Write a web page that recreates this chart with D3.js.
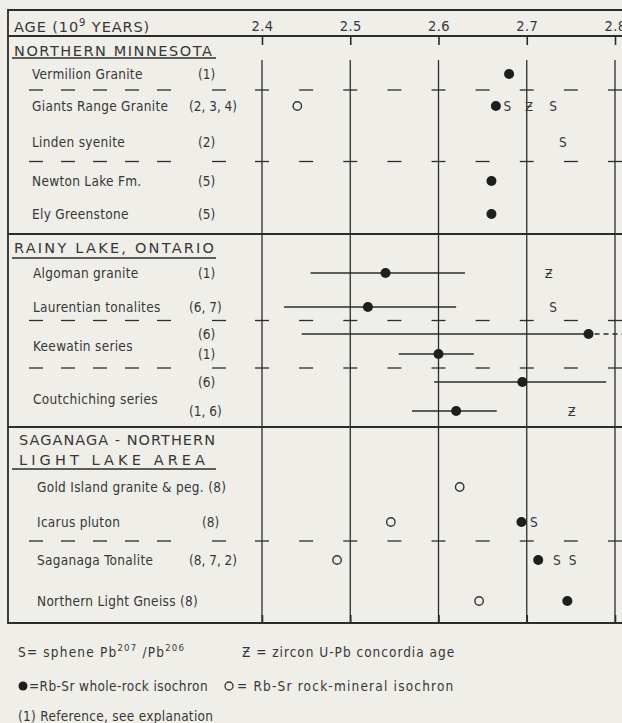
<!DOCTYPE html>
<html>
<head>
<meta charset="utf-8">
<script src="https://cdn.jsdelivr.net/npm/d3@7"></script>
<style>
  html, body { margin: 0; padding: 0; background: #efeee9; }
  svg { display: block; }
  text { font-family: "DejaVu Sans Condensed", "DejaVu Sans", sans-serif; fill: #373737; }
  text.caps { font-family: "DejaVu Sans", sans-serif; }
</style>
</head>
<body>
<svg id="chart" width="622" height="723"></svg>
<script>
// ---- data -------------------------------------------------------------
const ageTicks = [2.4, 2.5, 2.6, 2.7, 2.8];

const sectionTitles = [
  ["NORTHERN  MINNESOTA"],
  ["RAINY LAKE, ONTARIO"],
  ["SAGANAGA - NORTHERN", "LIGHT  LAKE   AREA"]
];

// rock units, the sample lanes they occupy, and their references
const rockUnits = [
  "Vermilion Granite", "Giants Range Granite", "Linden  syenite", "Newton Lake Fm.",
  "Ely Greenstone", "Algoman granite", "Laurentian tonalites", "Keewatin series",
  "Coutchiching series", "Gold Island granite & peg.", "Icarus pluton",
  "Saganaga Tonalite", "Northern Light Gneiss"
];
const unitLanes = [
  ["verm"], ["giants"], ["linden"], ["newton"], ["ely"], ["algoman"], ["laur"],
  ["keew6", "keew1"], ["couch6", "couch16"], ["gold"], ["icarus"], ["sag"], ["nlg"]
];
const unitRefs = [
  ["(1)"], ["(2, 3, 4)"], ["(2)"], ["(5)"], ["(5)"], ["(1)"], ["(6, 7)"],
  ["(6)", "(1)"], ["(6)", "(1, 6)"], ["(8)"], ["(8)"], ["(8, 7, 2)"], ["(8)"]
];
const unitSection = [0, 0, 0, 0, 0, 1, 1, 1, 1, 2, 2, 2, 2];

// Rb-Sr whole-rock isochron ages (with error ranges where given)
const wholeRock = [
  { lane: "verm",    age: 2.68 },
  { lane: "giants",  age: 2.665 },
  { lane: "newton",  age: 2.66 },
  { lane: "ely",     age: 2.66 },
  { lane: "algoman", age: 2.54,  lo: 2.455, hi: 2.63 },
  { lane: "laur",    age: 2.52,  lo: 2.425, hi: 2.62 },
  { lane: "keew6",   age: 2.77,  lo: 2.445, hi: 3.095 },
  { lane: "keew1",   age: 2.60,  lo: 2.555, hi: 2.64 },
  { lane: "couch6",  age: 2.695, lo: 2.595, hi: 2.79 },
  { lane: "couch16", age: 2.62,  lo: 2.57,  hi: 2.666 },
  { lane: "icarus",  age: 2.694 },
  { lane: "sag",     age: 2.713 },
  { lane: "nlg",     age: 2.746 }
];

// Rb-Sr rock-mineral isochron ages
const rockMineral = [
  { lane: "giants", age: 2.44 },
  { lane: "gold",   age: 2.624 },
  { lane: "icarus", age: 2.546 },
  { lane: "sag",    age: 2.485 },
  { lane: "nlg",    age: 2.646 }
];

// sphene Pb207/Pb206 ages
const sphene = [
  { lane: "giants", age: 2.678 },
  { lane: "giants", age: 2.73 },
  { lane: "linden", age: 2.741 },
  { lane: "laur",   age: 2.73 },
  { lane: "icarus", age: 2.708 },
  { lane: "sag",    age: 2.734 },
  { lane: "sag",    age: 2.752 }
];

// zircon U-Pb concordia ages
const zircon = [
  { lane: "giants",  age: 2.7025 },
  { lane: "algoman", age: 2.725 },
  { lane: "couch16", age: 2.751 }
];

// lanes separated by a dashed rule: [upper lane, lower lane]
const dashedBreaks = [["verm", "giants"], ["linden", "newton"], ["laur", "keew6"], ["keew1", "couch6"], ["icarus", "sag"]];

// ---- layout -----------------------------------------------------------
const svg = d3.select("#chart");
const ink = "#2c2c2c";
const font = "\"DejaVu Sans Condensed\", \"DejaVu Sans\", sans-serif";
const frame = { left: 8, top: 10, right: 640, bottom: 623, header: 36 };
const sectionTops = [36, 234, 427];
const sectionTitleY = [[56], [253], [445, 465]];
const sectionTitleX = [[14], [14], [19, 19]];
const sectionTitleW = [[198], [200], [196, 186]];
const sectionRuleY = [58, 258, 469];
const gridTop = 60;

const x = d3.scaleLinear().domain([2.4, 2.8]).range([262, 615]);
const laneKeys = ["verm", "giants", "linden", "newton", "ely", "algoman", "laur", "keew6", "keew1",
                  "couch6", "couch16", "gold", "icarus", "sag", "nlg"];
const y = d3.scaleOrdinal().domain(laneKeys)
  .range([74, 106, 142, 181, 214, 273, 307, 334, 354, 382, 411, 487, 522, 560, 601]);

// ---- frame and rules --------------------------------------------------
const g = svg.append("g");
g.append("path")
  .attr("d", `M${frame.right},${frame.top}H${frame.left}V${frame.bottom}H${frame.right}`)
  .attr("fill", "none").attr("stroke", ink).attr("stroke-width", 1.8);
[frame.header, sectionTops[1], sectionTops[2]].forEach(yy => {
  g.append("line").attr("x1", frame.left).attr("x2", frame.right)
    .attr("y1", yy).attr("y2", yy).attr("stroke", ink).attr("stroke-width", 1.8);
});

// vertical age grid
g.selectAll("line.grid").data(ageTicks).join("line")
  .attr("class", "grid")
  .attr("x1", d => x(d)).attr("x2", d => x(d))
  .attr("y1", gridTop).attr("y2", frame.bottom)
  .attr("stroke", ink).attr("stroke-width", 1.3);

// top axis: labels above the header rule, ticks hanging below it
const topAxis = d3.axisTop(x).tickValues(ageTicks).tickFormat(d3.format(".1f"))
  .tickSizeInner(-9).tickSizeOuter(0).tickPadding(5);
const ta = g.append("g").attr("transform", `translate(0,${frame.header})`).call(topAxis);
ta.select(".domain").remove();
ta.selectAll(".tick line").attr("stroke", ink).attr("stroke-width", 1.6);
ta.selectAll(".tick text").attr("font-size", 14.5).attr("fill", "#373737")
  .attr("font-family", font).attr("letter-spacing", 0.5);

// bottom axis: short ticks rising from the bottom rule
const botAxis = d3.axisBottom(x).tickValues(ageTicks).tickFormat("").tickSizeInner(-8).tickSizeOuter(0);
const ba = g.append("g").attr("transform", `translate(0,${frame.bottom})`).call(botAxis);
ba.select(".domain").remove();
ba.selectAll(".tick line").attr("stroke", ink).attr("stroke-width", 1.6);

// dashed separators between lanes
const dashCentersLabel = [36, 68, 100, 132, 164, 219];
const dashCentersPlot = d3.range(0, 9).map(i => x(2.4 + i * 0.05));
dashedBreaks.forEach(([a, b]) => {
  const yy = (y(a) + y(b)) / 2;
  dashCentersLabel.concat(dashCentersPlot).forEach(cx => {
    g.append("line").attr("x1", cx - 7).attr("x2", cx + 7)
      .attr("y1", yy).attr("y2", yy).attr("stroke", ink).attr("stroke-width", 1.3);
  });
});

// header
g.append("text").attr("class", "caps").attr("x", 14).attr("y", 32)
  .attr("font-size", 14.5).attr("letter-spacing", 0.9)
  .html('AGE  (10<tspan dy="-6" font-size="10">9</tspan><tspan dy="6"> YEARS)</tspan>');

// section titles
sectionTitles.forEach((lines, i) => {
  lines.forEach((t, j) => {
    g.append("text").attr("class", "caps").attr("x", sectionTitleX[i][j]).attr("y", sectionTitleY[i][j])
      .attr("font-size", 14.5).attr("textLength", sectionTitleW[i][j])
      .attr("lengthAdjust", "spacing").text(t);
  });
  g.append("line").attr("x1", 12).attr("x2", 216)
    .attr("y1", sectionRuleY[i]).attr("y2", sectionRuleY[i])
    .attr("stroke", ink).attr("stroke-width", 1.6);
});

// rock unit labels and references
const labelX = [32, 33, 37];
rockUnits.forEach((name, i) => {
  const lanes = unitLanes[i];
  const cy = lanes.length === 1 ? y(lanes[0]) : (y(lanes[0]) + y(lanes[1])) / 2 + 2;
  const t = g.append("text").attr("x", labelX[unitSection[i]]).attr("y", cy + 5)
    .attr("font-size", 13.5).attr("letter-spacing", 0.3).text(name);
  const refs = unitRefs[i];
  if (name.startsWith("Gold") || name.startsWith("Northern")) {
    t.append("tspan").text(" " + refs[0]);
  } else {
    refs.forEach((r, j) => {
      let rx = r.length > 5 ? 189 : 198;
      if (name.startsWith("Icarus")) rx = 202;
      g.append("text").attr("x", rx)
        .attr("y", y(lanes[Math.min(j, lanes.length - 1)]) + 5)
        .attr("font-size", 13.5).text(r);
    });
  }
});

// ---- marks ------------------------------------------------------------
const edge = 630;

// error ranges of the whole-rock isochrons; a range running past the
// last age line continues dashed to the edge
wholeRock.filter(d => d.lo !== undefined).forEach(d => {
  if (d.hi > x.domain()[1]) {
    g.append("line").attr("x1", x(d.lo)).attr("x2", x(d.age))
      .attr("y1", y(d.lane)).attr("y2", y(d.lane)).attr("stroke", ink).attr("stroke-width", 1.7);
    g.append("line").attr("x1", x(d.age)).attr("x2", edge)
      .attr("y1", y(d.lane)).attr("y2", y(d.lane)).attr("stroke", ink).attr("stroke-width", 1.7)
      .attr("stroke-dasharray", "5,4").attr("stroke-dashoffset", -6);
  } else {
    g.append("line").attr("x1", x(d.lo)).attr("x2", x(d.hi))
      .attr("y1", y(d.lane)).attr("y2", y(d.lane)).attr("stroke", ink).attr("stroke-width", 1.7);
  }
});

g.selectAll("circle.wr").data(wholeRock).join("circle")
  .attr("class", "wr").attr("cx", d => x(d.age)).attr("cy", d => y(d.lane))
  .attr("r", 5).attr("fill", "#1e1e1e");

g.selectAll("circle.rm").data(rockMineral).join("circle")
  .attr("class", "rm").attr("cx", d => x(d.age)).attr("cy", d => y(d.lane))
  .attr("r", 4.2).attr("fill", "none").attr("stroke", "#333").attr("stroke-width", 1.4);

g.selectAll("text.sph").data(sphene).join("text")
  .attr("class", "sph").attr("x", d => x(d.age)).attr("y", d => y(d.lane) + 5)
  .attr("text-anchor", "middle").attr("font-size", 13.5).text("S");

g.selectAll("text.zr").data(zircon).join("text")
  .attr("class", "zr").attr("x", d => x(d.age)).attr("y", d => y(d.lane) + 5)
  .attr("text-anchor", "middle").attr("font-size", 13).text("Ƶ");

// ---- legend -----------------------------------------------------------
const leg = svg.append("g");
leg.append("text").attr("x", 18).attr("y", 657).attr("font-size", 13.5).attr("letter-spacing", 1.2)
  .html('S= sphene  Pb<tspan dy="-6" font-size="9.5">207</tspan><tspan dy="6"> /Pb</tspan><tspan dy="-6" font-size="9.5">206</tspan>');
leg.append("text").attr("x", 242).attr("y", 657).attr("font-size", 13.5).attr("letter-spacing", 1.0)
  .text("Ƶ =  zircon  U-Pb  concordia  age");
leg.append("circle").attr("cx", 23).attr("cy", 686).attr("r", 4.5).attr("fill", "#1e1e1e");
leg.append("text").attr("x", 29).attr("y", 691).attr("font-size", 13.5).attr("letter-spacing", 0.4)
  .text("=Rb-Sr  whole-rock  isochron");
leg.append("circle").attr("cx", 229).attr("cy", 686).attr("r", 4).attr("fill", "none")
  .attr("stroke", "#333").attr("stroke-width", 1.3);
leg.append("text").attr("x", 237).attr("y", 691).attr("font-size", 13.5).attr("letter-spacing", 1.2)
  .text("= Rb-Sr  rock-mineral  isochron");
leg.append("text").attr("x", 18).attr("y", 721).attr("font-size", 13.5).attr("letter-spacing", 0.3)
  .text("(1) Reference, see explanation");
</script>
</body>
</html>
